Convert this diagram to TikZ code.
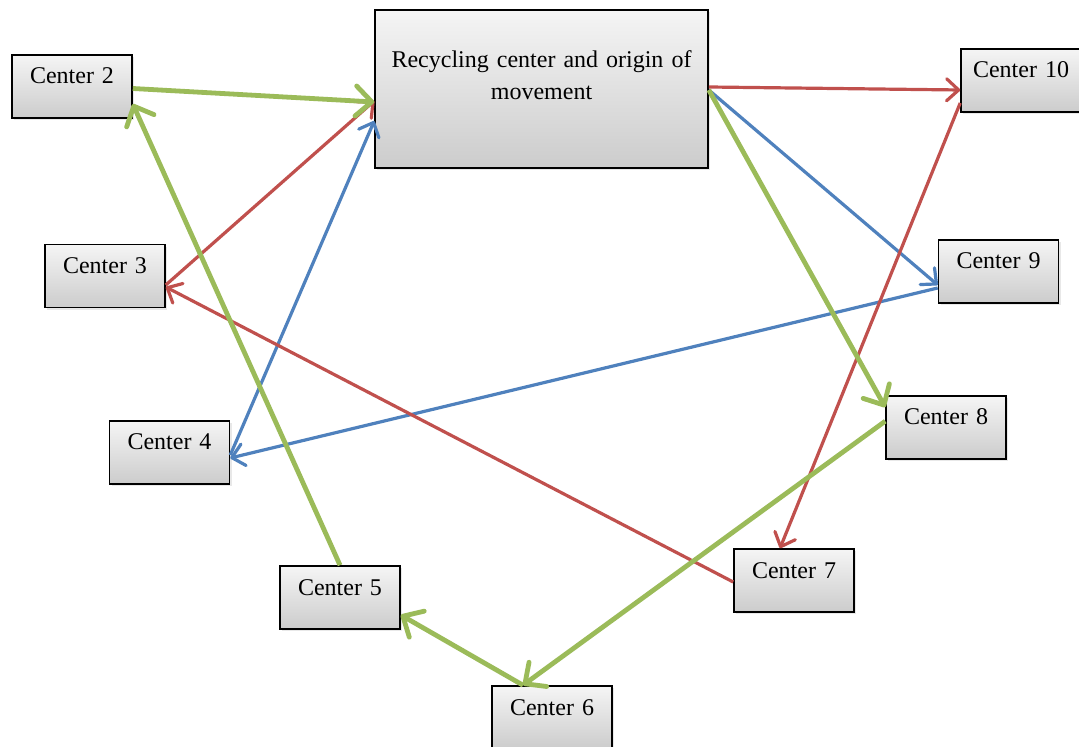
\documentclass[tikz,border=0pt]{standalone}
\usepackage{fontspec}
\setmainfont{Liberation Serif}
\usetikzlibrary{arrows.meta,shadows}
\definecolor{leafgreen}{HTML}{9BBB59}
\definecolor{brickred}{HTML}{C0504D}
\definecolor{steelblue}{HTML}{4F81BD}
\tikzset{
  centerbox/.style = {rectangle, draw=black, line width=0.8pt, top color=gray!8, bottom color=gray!40,
                   drop shadow={shadow xshift=1.2pt, shadow yshift=-1.2pt, opacity=0.18},
                   align=center, inner sep=0pt, text width=60pt, text height=14.5pt, text depth=17pt,
                   font=\fontsize{12}{16}\selectfont},
  hubbox/.style  = {centerbox, text width=166.5pt, text height=29pt, text depth=50pt},
  flowgreen/.style = {-{Straight Barb[length=8pt,width=15pt,round]}, draw=leafgreen, line width=2.4pt},
  flowred/.style   = {-{Straight Barb[length=6pt,width=11pt,round]}, draw=brickred, line width=1.6pt},
  flowblue/.style  = {-{Straight Barb[length=6pt,width=11pt,round]}, draw=steelblue, line width=1.6pt},
}
\begin{document}
\begin{tikzpicture}[x=0.5pt,y=-0.5pt]
    \useasboundingbox (0,0) rectangle (1079,747);
    \node[hubbox] (hub) at (541.5,89) {Recycling center and origin of\\movement};
    \node[centerbox] (c2) at (72,86.5) {Center 2};
    \node[centerbox] (c3) at (105,276) {Center 3};
    \node[centerbox] (c4) at (169.5,452.5) {Center 4};
    \node[centerbox] (c5) at (340,597.5) {Center 5};
    \node[centerbox] (c6) at (552,717.5) {Center 6};
    \node[centerbox] (c7) at (794,580.5) {Center 7};
    \node[centerbox] (c8) at (946,427.5) {Center 8};
    \node[centerbox] (c9) at (998.5,271.5) {Center 9};
    \node[centerbox] (c10) at (1021,80.5) {Center 10};
    % blue route
    \draw[flowblue] ([yshift=-0.5pt]hub.east) -- ([yshift=-6.75pt]c9.west);
    \draw[flowblue] ([yshift=-8.25pt]c9.west) -- ([yshift=-2.75pt]c4.east);
    \draw[flowblue] ([yshift=-1.25pt]c4.east) -- ([yshift=-16pt]hub.west);
    % red route
    \draw[flowred] ([yshift=1pt]hub.east) -- ([yshift=-4.75pt]c10.west);
    \draw[flowred] ([yshift=-11.25pt]c10.west) -- ([xshift=-7pt]c7.north);
    \draw[flowred] ([yshift=-0.75pt]c7.west) -- ([yshift=-5.5pt]c3.east);
    \draw[flowred] ([yshift=-4.5pt]c3.east) -- ([yshift=-6pt]hub.west);
    % green route
    \draw[flowgreen] ([yshift=-0.5pt]hub.east) -- ([yshift=-6pt]c8.north west);
    \draw[flowgreen] ([yshift=-13pt]c8.north west) -- ([xshift=-14.5pt]c6.north);
    \draw[flowgreen] ([xshift=-14.5pt]c6.north) -- ([yshift=-8.75pt]c5.east);
    \draw[flowgreen] (c5.north) -- ([yshift=-8.75pt]c2.east);
    \draw[flowgreen] ([yshift=-1pt]c2.east) -- ([yshift=-6.5pt]hub.west);
\end{tikzpicture}
\end{document}
